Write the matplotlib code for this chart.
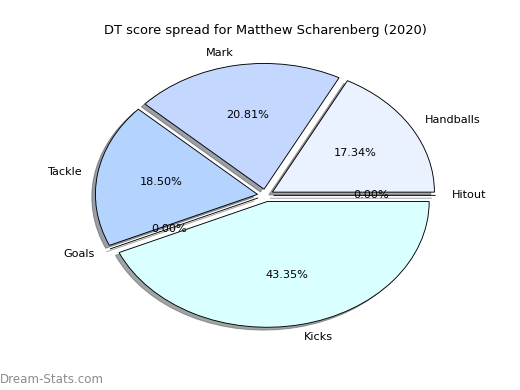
import matplotlib
matplotlib.use("Agg")
from matplotlib import pyplot as plt

# DT score share per stat
labels = ['Handballs', 'Mark', 'Tackle', 'Goals', 'Kicks', 'Hitout']
shares = [17.34, 20.81, 18.50, 0.00, 43.35, 0.00]
colors = ['#eaf1ff', '#c4d8ff', '#b4d4ff', '#cce6ff', '#d9ffff', '#e0e0ff']
explode = [0.05] * len(labels)

fig = plt.figure(figsize=(6.4, 4.8), dpi=81.25)
ax = fig.add_subplot(111)
fig.subplots_adjust(left=0.121, right=0.900, bottom=0.096, top=0.902)

ax.pie(shares, labels=labels, colors=colors, explode=explode,
       autopct='%1.2f%%', shadow=True, startangle=0,
       wedgeprops={'edgecolor': 'black', 'linewidth': 0.8})
ax.set_aspect('auto')

ax.set_title("DT score spread for Matthew Scharenberg (2020)", fontsize=11.5, pad=3.5)

fig.text(0.0, 0.01, "Dream-Stats.com", color='#8c8c8c', fontsize=10.5,
         ha='left', va='bottom')

plt.savefig("out.png", dpi=81.25)
